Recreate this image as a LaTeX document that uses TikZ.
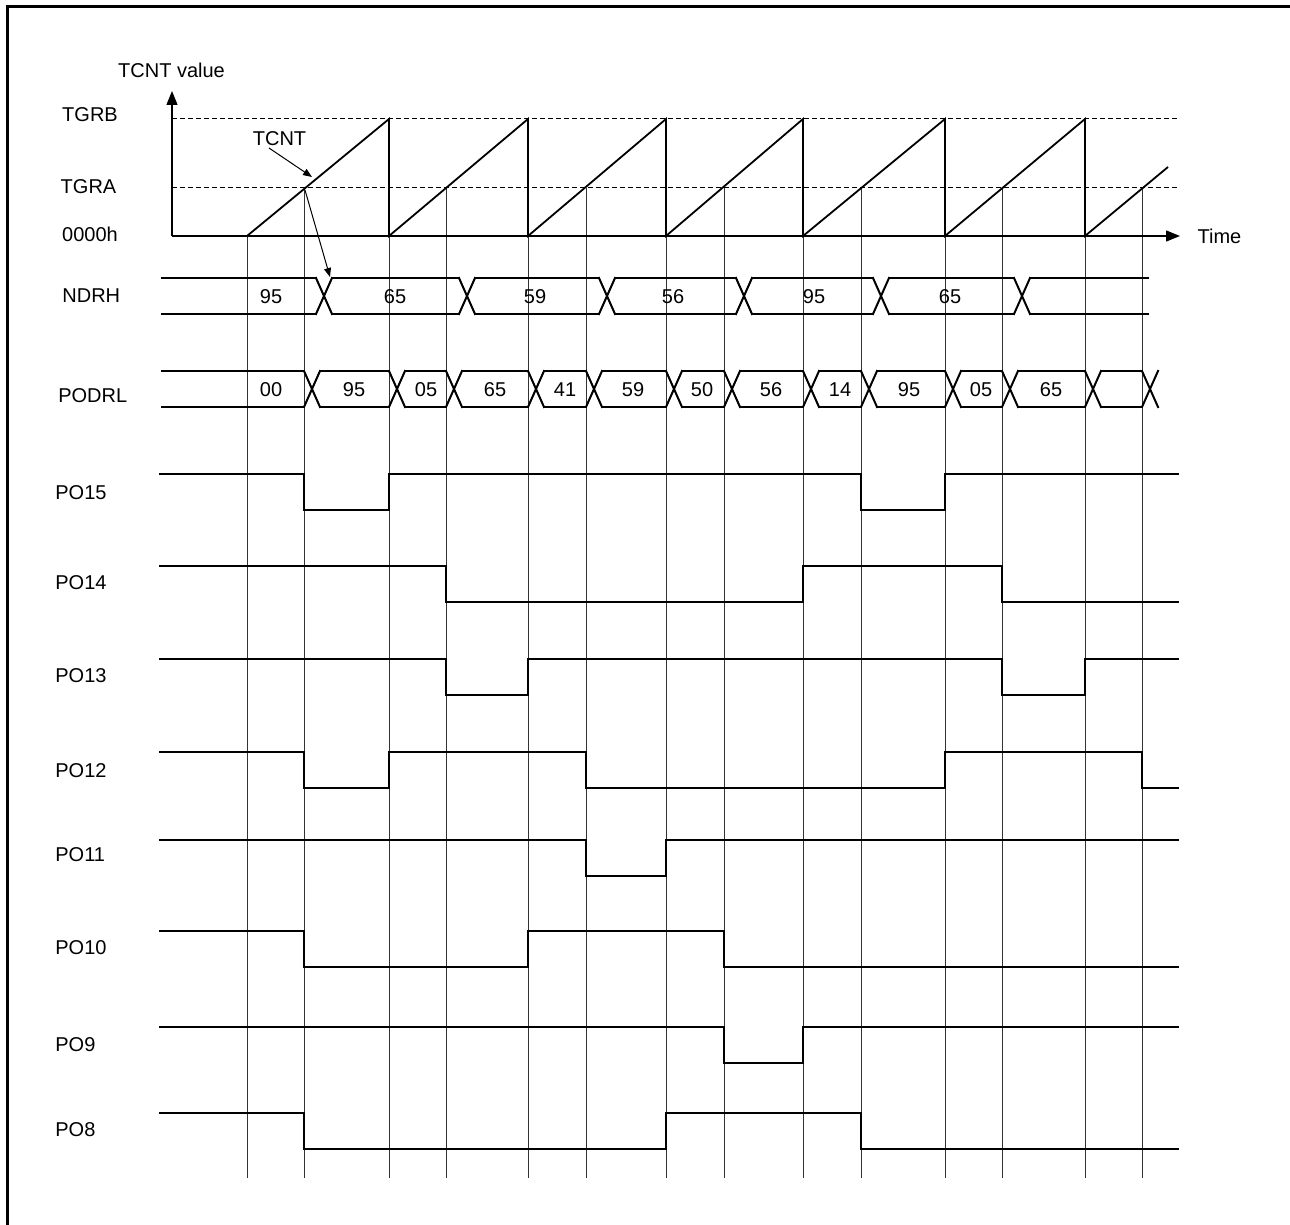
\documentclass[tikz,border=0pt]{standalone}
\usepackage{fontspec}
\setmainfont{Liberation Sans}
\usetikzlibrary{arrows.meta}
\begin{document}
\begin{tikzpicture}[x=0.5pt,y=-0.5pt,
  lbl/.style={inner sep=0pt, font=\fontsize{10pt}{12pt}\selectfont},
  sig/.style={line width=1pt, line join=miter, line cap=rect},
  saw/.style={line width=0.9pt, line join=miter},
  gridln/.style={line width=0.5pt, black!80},
  refline/.style={line width=0.5pt, dash pattern=on 2.5pt off 1.5pt},
  axisarrow/.style={line width=0.7pt, -{Triangle[length=7pt,width=5.5pt]}},
  ptr/.style={line width=0.5pt, -{Triangle[length=4.5pt,width=3.5pt]}}]
\useasboundingbox (0,0) rectangle (1290,1225);
% frame
\draw[line width=1.5pt] (7,1240) -- (7,7) -- (1300,7);

% grid lines
\foreach \x in {247,389,528,666,803,945,1085}
  \draw[gridln] (\x,236) -- (\x,1178);
\foreach \x in {304,446,586,724,861,1002,1142}
  \draw[gridln] (\x,188) -- (\x,1178);

% reference dashed lines
\draw[refline] (172,119) -- (1179,119);
\draw[refline] (172,188) -- (1179,188);

% axes
\coordinate (org) at (172,236);
\coordinate (ytip) at (172,91);
\coordinate (xtip) at (1180,236);
\draw[axisarrow] (org) -- (ytip);
\draw[axisarrow] (org) -- (xtip);

% sawtooth
\draw[saw] (247,236) -- (389,119) -- (389,236) -- (528,119) -- (528,236)
  -- (666,119) -- (666,236) -- (803,119) -- (803,236) -- (945,119)
  -- (945,236) -- (1085,119) -- (1085,236) -- (1168,167);

% axis texts
\node[lbl] (tval) at (171.5,70) {TCNT value};
\node[lbl] (tgrb) at (90,115) {TGRB};
\node[lbl] (tgra) at (88.5,187) {TGRA};
\node[lbl] (zero) at (90,234) {0000h};
\node[lbl] (time) at (1219.5,236) {Time};
\node[lbl] (tcnt) at (279.5,139) {TCNT};

% pointer arrows
\coordinate (tcntA) at (269,148);
\coordinate (tcntB) at (312,177);
\draw[ptr] (tcntA) -- (tcntB);
\coordinate (tgraX) at (305,190);
\coordinate (ndrhX) at (330,277);
\draw[ptr] (tgraX) -- (ndrhX);

% NDRH bus
\node[lbl] (ndrh) at (91.3,296) {NDRH};
\begin{scope}[shift={(0,278)}]
  \foreach \a/\b in {162/316,332/459,475/599,615/736,752/873,889/1014,1030/1148}
    \draw[sig] (\a,0) -- (\b,0) (\a,36) -- (\b,36);
  \foreach \c in {324,467,607,744,881,1022}
    \draw[sig] (\c-8,0) -- (\c+8,36) (\c-8,36) -- (\c+8,0);
  \foreach \x/\t in {271/95,395/65,535/59,673/56,814/95,950/65}
    \node[lbl] at (\x,18.5) {\t};
\end{scope}

% PODRL bus
\node[lbl] (podrl) at (92.8,396) {PODRL};
\begin{scope}[shift={(0,371)}]
  \foreach \a/\b in {162/304,320/389,405/446,462/528,544/586,602/666,682/724,740/803,819/861,877/945,961/1002,1018/1085,1101/1142}
    \draw[sig] (\a,0) -- (\b,0) (\a,36) -- (\b,36);
  \foreach \g in {304,389,446,528,586,666,724,803,861,945,1002,1085,1142}
    \draw[sig] (\g,0) -- (\g+16,36) (\g,36) -- (\g+16,0);
  \foreach \x/\t in {271/00,354/95,426/05,495/65,565/41,633/59,702/50,771/56,840/14,909/95,981/05,1051/65}
    \node[lbl] at (\x,19) {\t};
\end{scope}

% output signals
\node[lbl, anchor=west] (po15) at (55,493) {PO15};
\begin{scope}[shift={(0,474)}]
  \draw[sig] (160,0) -| (304,36) -| (389,0) -| (861,36) -| (945,0) -- (1178,0);
\end{scope}
\node[lbl, anchor=west] (po14) at (55,583) {PO14};
\begin{scope}[shift={(0,566)}]
  \draw[sig] (160,0) -| (446,36) -| (803,0) -| (1002,36) -- (1178,36);
\end{scope}
\node[lbl, anchor=west] (po13) at (55,676) {PO13};
\begin{scope}[shift={(0,659)}]
  \draw[sig] (160,0) -| (446,36) -| (528,0) -| (1002,36) -| (1085,0) -- (1178,0);
\end{scope}
\node[lbl, anchor=west] (po12) at (55,771) {PO12};
\begin{scope}[shift={(0,752)}]
  \draw[sig] (160,0) -| (304,36) -| (389,0) -| (586,36) -| (945,0) -| (1142,36) -- (1178,36);
\end{scope}
\node[lbl, anchor=west] (po11) at (55,855) {PO11};
\begin{scope}[shift={(0,840)}]
  \draw[sig] (160,0) -| (586,36) -| (666,0) -- (1178,0);
\end{scope}
\node[lbl, anchor=west] (po10) at (55,948) {PO10};
\begin{scope}[shift={(0,931)}]
  \draw[sig] (160,0) -| (304,36) -| (528,0) -| (724,36) -- (1178,36);
\end{scope}
\node[lbl, anchor=west] (po9) at (55,1045) {PO9};
\begin{scope}[shift={(0,1027)}]
  \draw[sig] (160,0) -| (724,36) -| (803,0) -- (1178,0);
\end{scope}
\node[lbl, anchor=west] (po8) at (55,1130) {PO8};
\begin{scope}[shift={(0,1113)}]
  \draw[sig] (160,0) -| (304,36) -| (666,0) -| (861,36) -- (1178,36);
\end{scope}
\end{tikzpicture}
\end{document}
